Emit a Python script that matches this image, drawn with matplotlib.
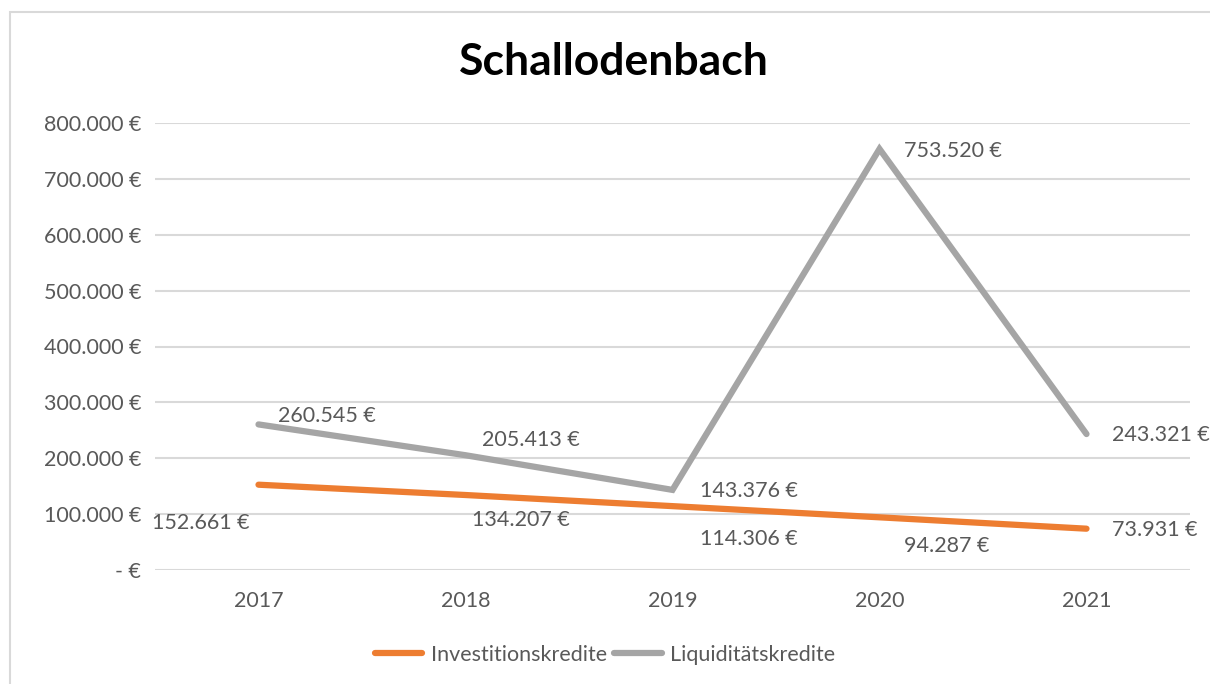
import matplotlib
matplotlib.use("Agg")
import matplotlib.pyplot as plt
from matplotlib.patches import Rectangle
from matplotlib.lines import Line2D

years = ["2017", "2018", "2019", "2020", "2021"]
investitionskredite = [152661, 134207, 114306, 94287, 73931]
liquiditaetskredite = [260545, 205413, 143376, 753520, 243321]
y_ticks = [0, 100000, 200000, 300000, 400000, 500000, 600000, 700000, 800000]

ORANGE = "#ED7D31"
GRAY = "#A5A5A5"
TEXT = "#595959"
GRID = "#D9D9D9"
FONT = "Lato"
FS = 15.5

plt.rcParams["font.family"] = [FONT, "DejaVu Sans"]


def euro(v):
    if v == 0:
        return "- €"
    return f"{v:,.0f}".replace(",", ".") + " €"


fig = plt.figure(figsize=(12.1, 6.84), dpi=100)
W, H = 1210, 684

# chart frame
fig.patches.append(Rectangle((10 / W, -0.02), 1.05, 1 - 12 / H + 0.02,
                             transform=fig.transFigure, fill=False,
                             edgecolor=GRID, linewidth=1.5))

ax = fig.add_axes([155 / W, 114 / H, 1035 / W, 447 / H])
x = list(range(len(years)))

ax.set_xlim(-0.5, len(years) - 0.5)
ax.set_ylim(0, 800000)
ax.set_yticks(y_ticks)
ax.set_yticklabels([euro(v) for v in y_ticks])
ax.set_xticks(x)
ax.set_xticklabels(years)
ax.tick_params(axis="both", length=0, labelsize=FS, labelcolor=TEXT)
ax.tick_params(axis="y", pad=10)
ax.tick_params(axis="x", pad=15)
ax.grid(axis="y", color=GRID, linewidth=1.5)
ax.set_axisbelow(True)
for s in ax.spines.values():
    s.set_visible(False)

ax.plot(x, investitionskredite, color=ORANGE, linewidth=4.5,
        solid_capstyle="round", solid_joinstyle="round", zorder=3)
ax.plot(x, liquiditaetskredite, color=GRAY, linewidth=4.5,
        solid_capstyle="round", solid_joinstyle="miter", zorder=3)

# data labels: offsets in pixels from each point to the label's left edge
liq_offsets = [(20, 8), (16, 15), (28, -1), (25, -2), (25, -1)]
inv_offsets = [(-106, -38), (6, -25), (28, -33), (25, -29), (26, -1)]

for xi, v, (dx, dy) in zip(x, liquiditaetskredite, liq_offsets):
    ax.annotate(euro(v), (xi, v), xytext=(dx, dy), textcoords="offset pixels",
                ha="left", va="center", fontsize=FS, color=TEXT,
                annotation_clip=False)
for xi, v, (dx, dy) in zip(x, investitionskredite, inv_offsets):
    ax.annotate(euro(v), (xi, v), xytext=(dx, dy), textcoords="offset pixels",
                ha="left", va="center", fontsize=FS, color=TEXT,
                annotation_clip=False)

fig.text(614 / W, 1 - 62 / H, "Schallodenbach", ha="center", va="center",
         fontsize=32, fontweight="bold", color="black")

handles = [Line2D([], [], color=ORANGE, linewidth=4.5, solid_capstyle="round"),
           Line2D([], [], color=GRAY, linewidth=4.5, solid_capstyle="round")]
fig.legend(handles, ["Investitionskredite", "Liquiditätskredite"],
           loc="center", bbox_to_anchor=(605 / W, 1 - 655 / H), ncol=2,
           frameon=False, fontsize=FS, labelcolor=TEXT, handlelength=2.2,
           handletextpad=0.4, columnspacing=0.35)

fig.savefig("out.png", dpi=100)
